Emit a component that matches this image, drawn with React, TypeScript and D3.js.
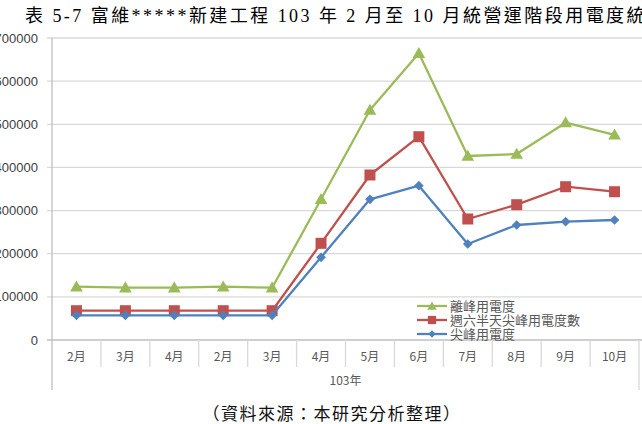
import React from 'react';
import * as d3 from 'd3';

const months = ['2月', '3月', '4月', '2月', '3月', '4月', '5月', '6月', '7月', '8月', '9月', '10月'];
const yTicks = [0, 100000, 200000, 300000, 400000, 500000, 600000, 700000];

const offPeak = [123500, 121200, 121200, 123500, 121200, 326100, 533100, 664500, 426500, 431100, 503700, 475700];
const satPeak = [67900, 67900, 67900, 67900, 67900, 224100, 382500, 471200, 280500, 313600, 355300, 343700];
const peak = [57300, 57300, 57300, 57300, 57300, 191700, 326100, 357700, 222500, 266600, 274200, 278100];

const series = [
  { name: '離峰用電度', values: offPeak, color: '#9bbb59', marker: 'triangle' },
  { name: '週六半天尖峰用電度數', values: satPeak, color: '#c0504d', marker: 'square' },
  { name: '尖峰用電度', values: peak, color: '#4f81bd', marker: 'diamond' },
];

const W = 642;
const H = 424;
const plot = { left: 52, right: 639, top: 38, bottom: 340 };
const cjk = '"Noto Sans CJK TC", "Noto Sans", sans-serif';

const Marker: React.FC<{ kind: string; x: number; y: number; color: string; s?: number }> = ({ kind, x, y, color, s = 1 }) => {
  if (kind === 'triangle') {
    const p = d3.symbol(d3.symbolTriangle, 70 * s * s)();
    return <path d={p || ''} transform={`translate(${x},${y + 1})`} fill={color} />;
  }
  if (kind === 'square') {
    const h = 5.5 * s;
    return <rect x={x - h} y={y - h} width={h * 2} height={h * 2} fill={color} />;
  }
  const p = d3.symbol(d3.symbolDiamond2, 60 * s * s)();
  return <path d={p || ''} transform={`translate(${x},${y})`} fill={color} />;
};

export default function App() {
  const x = d3.scaleBand<number>().domain(d3.range(months.length)).range([plot.left, plot.right]);
  const y = d3.scaleLinear().domain([0, 700000]).range([plot.bottom, plot.top]);
  const cx = (i: number) => (x(i) || 0) + x.bandwidth() / 2;

  const line = d3.line<number>().x((_, i) => cx(i)).y((d) => y(d));

  const bounds = d3.range(months.length + 1).map((i) => plot.left + i * x.bandwidth());

  return (
    <svg width={W} height={H} style={{ position: 'absolute', left: 0, top: 0, background: '#fff' }}>
      {/* title, cut at the right edge like the scan */}
      <text
        x={25}
        y={22}
        fontSize={18}
        fontFamily={'"Liberation Serif", "Noto Sans CJK TC", serif'}
        fill="#000"
        textLength={640}
        lengthAdjust="spacing"
      >
        表 5-7 富維*****新建工程 103 年 2 月至 10 月統營運階段用電度統計
      </text>

      {/* gridlines + value labels */}
      {yTicks.map((t) => (
        <g key={t}>
          <line x1={plot.left - 5} x2={plot.right + 3} y1={y(t)} y2={y(t)} stroke={t === 0 ? '#bfbfbf' : '#d9d9d9'} strokeWidth={1.3} />
          <text x={38} y={y(t)} dy="0.35em" textAnchor="end" fontSize={13} fontFamily={'"Liberation Sans", Arial, sans-serif'} fill="#404040">
            {t}
          </text>
        </g>
      ))}

      <line x1={plot.left} x2={plot.left} y1={plot.top} y2={390} stroke="#bfbfbf" strokeWidth={1.3} />

      {/* category separators */}
      {bounds.slice(1).map((b, i) => (
        <line key={i} x1={b} x2={b} y1={plot.bottom} y2={i === bounds.length - 2 ? 390 : 367} stroke="#d9d9d9" strokeWidth={1.3} />
      ))}

      {months.map((m, i) => (
        <text key={i} x={cx(i)} y={357} dy="0.35em" textAnchor="middle" fontSize={12} fontFamily={cjk} fill="#595959">
          {m}
        </text>
      ))}
      <text x={(plot.left + plot.right) / 2} y={381} dy="0.35em" textAnchor="middle" fontSize={12} fontFamily={cjk} fill="#595959">
        103年
      </text>

      {/* series */}
      {series.map((s) => (
        <g key={s.name}>
          <path d={line(s.values) || ''} fill="none" stroke={s.color} strokeWidth={2.3} strokeLinejoin="round" />
          {s.values.map((v, i) => (
            <Marker key={i} kind={s.marker} x={cx(i)} y={y(v)} color={s.color} />
          ))}
        </g>
      ))}

      {/* legend */}
      {series.map((s, i) => {
        const ly = 306 + i * 14;
        return (
          <g key={s.name}>
            <line x1={417} x2={447} y1={ly} y2={ly} stroke={s.color} strokeWidth={2.3} />
            <Marker kind={s.marker} x={432} y={ly} color={s.color} s={0.75} />
            <text x={450} y={ly} dy="0.35em" fontSize={13} fontFamily={cjk} fill="#595959">
              {s.name}
            </text>
          </g>
        );
      })}

      {/* source */}
      <text x={332} y={414} dy="0.35em" textAnchor="middle" fontSize={17} fontFamily={cjk} fill="#111" letterSpacing={1.5}>
        （資料來源：本研究分析整理）
      </text>
    </svg>
  );
}
